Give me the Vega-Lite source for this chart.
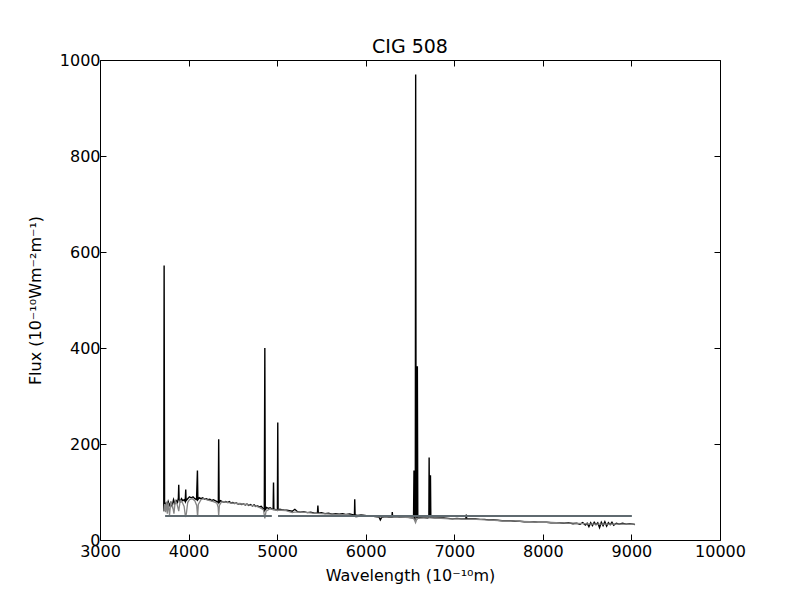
{
  "$schema": "https://vega.github.io/schema/vega-lite/v6.json",
  "autosize": {"type": "none"},
  "padding": {"left": 100, "top": 60, "right": 80, "bottom": 60},
  "width": 620,
  "height": 480,
  "background": "white",
  "title": {"text": "CIG 508", "font": "DejaVu Sans", "fontSize": 19, "fontWeight": "normal", "color": "black", "offset": -5},
  "config": {
    "view": {"stroke": "black", "strokeWidth": 1},
    "axis": {"domain": false, "grid": false, "labelFlush": false, "labelOverlap": false, "tickColor": "black", "tickSize": -6, "tickWidth": 1, "labelFont": "DejaVu Sans", "labelFontSize": 16, "labelColor": "black", "titleFont": "DejaVu Sans", "titleFontSize": 16, "titleFontWeight": "normal", "titleColor": "black", "labelPadding": 6}
  },
  "datasets": {
    "obs": [
      {"w":3720,"f":60},{"w":3724,"f":572},{"w":3729,"f":70},{"w":3740,"f":75},{"w":3755,"f":68},{"w":3770,"f":80},{"w":3785,"f":72},{"w":3800,"f":78},{"w":3815,"f":70},{"w":3830,"f":84},{"w":3845,"f":76},{"w":3860,"f":82},{"w":3875,"f":78},{"w":3885,"f":88},{"w":3889,"f":115},{"w":3893,"f":85},{"w":3905,"f":80},{"w":3920,"f":86},{"w":3935,"f":82},{"w":3950,"f":84},{"w":3962,"f":80},{"w":3968,"f":105},{"w":3972,"f":82},{"w":3990,"f":86},{"w":4010,"f":90},{"w":4030,"f":88},{"w":4050,"f":90},{"w":4070,"f":86},{"w":4090,"f":84},{"w":4100,"f":145},{"w":4105,"f":84},{"w":4120,"f":88},{"w":4140,"f":86},{"w":4160,"f":88},{"w":4180,"f":85},{"w":4200,"f":86},{"w":4220,"f":84},{"w":4240,"f":85},{"w":4260,"f":82},{"w":4280,"f":84},{"w":4300,"f":82},{"w":4320,"f":80},{"w":4336,"f":78},{"w":4340,"f":210},{"w":4345,"f":78},{"w":4360,"f":82},{"w":4380,"f":80},{"w":4400,"f":79},{"w":4420,"f":80},{"w":4440,"f":78},{"w":4460,"f":80},{"w":4480,"f":77},{"w":4500,"f":78},{"w":4520,"f":76},{"w":4540,"f":77},{"w":4560,"f":75},{"w":4580,"f":76},{"w":4600,"f":74},{"w":4620,"f":75},{"w":4640,"f":73},{"w":4660,"f":75},{"w":4680,"f":72},{"w":4700,"f":74},{"w":4720,"f":71},{"w":4740,"f":73},{"w":4760,"f":70},{"w":4780,"f":71},{"w":4800,"f":69},{"w":4820,"f":70},{"w":4840,"f":66},{"w":4855,"f":62},{"w":4861,"f":400},{"w":4866,"f":62},{"w":4880,"f":68},{"w":4900,"f":66},{"w":4920,"f":67},{"w":4940,"f":65},{"w":4955,"f":64},{"w":4959,"f":120},{"w":4963,"f":64},{"w":4985,"f":63},{"w":5003,"f":62},{"w":5007,"f":245},{"w":5011,"f":62},{"w":5030,"f":64},{"w":5050,"f":63},{"w":5080,"f":62},{"w":5110,"f":62},{"w":5140,"f":61},{"w":5170,"f":60},{"w":5200,"f":64},{"w":5230,"f":59},{"w":5260,"f":58},{"w":5300,"f":59},{"w":5340,"f":57},{"w":5380,"f":58},{"w":5420,"f":56},{"w":5455,"f":56},{"w":5460,"f":72},{"w":5465,"f":56},{"w":5500,"f":57},{"w":5540,"f":55},{"w":5580,"f":56},{"w":5620,"f":54},{"w":5660,"f":55},{"w":5700,"f":54},{"w":5740,"f":55},{"w":5780,"f":53},{"w":5820,"f":54},{"w":5860,"f":52},{"w":5873,"f":53},{"w":5876,"f":85},{"w":5880,"f":52},{"w":5910,"f":51},{"w":5950,"f":52},{"w":5990,"f":51},{"w":6030,"f":50},{"w":6070,"f":50},{"w":6110,"f":49},{"w":6150,"f":48},{"w":6165,"f":42},{"w":6180,"f":47},{"w":6220,"f":49},{"w":6260,"f":48},{"w":6296,"f":48},{"w":6300,"f":58},{"w":6304,"f":48},{"w":6340,"f":49},{"w":6380,"f":48},{"w":6420,"f":48},{"w":6460,"f":48},{"w":6500,"f":47},{"w":6540,"f":46},{"w":6545,"f":145},{"w":6550,"f":45},{"w":6555,"f":40},{"w":6560,"f":60},{"w":6564,"f":970},{"w":6569,"f":60},{"w":6578,"f":45},{"w":6583,"f":362},{"w":6588,"f":45},{"w":6620,"f":47},{"w":6660,"f":47},{"w":6700,"f":46},{"w":6713,"f":48},{"w":6716,"f":172},{"w":6720,"f":48},{"w":6728,"f":48},{"w":6731,"f":135},{"w":6735,"f":47},{"w":6780,"f":46},{"w":6830,"f":46},{"w":6880,"f":46},{"w":6930,"f":45},{"w":6980,"f":44},{"w":7030,"f":45},{"w":7080,"f":44},{"w":7130,"f":44},{"w":7136,"f":53},{"w":7140,"f":44},{"w":7190,"f":44},{"w":7240,"f":44},{"w":7290,"f":43},{"w":7340,"f":43},{"w":7390,"f":42},{"w":7440,"f":42},{"w":7490,"f":41},{"w":7540,"f":40},{"w":7590,"f":40},{"w":7640,"f":40},{"w":7690,"f":39},{"w":7740,"f":39},{"w":7790,"f":38},{"w":7840,"f":38},{"w":7890,"f":38},{"w":7940,"f":37},{"w":7990,"f":37},{"w":8040,"f":37},{"w":8090,"f":36},{"w":8140,"f":36},{"w":8190,"f":36},{"w":8240,"f":35},{"w":8290,"f":36},{"w":8340,"f":34},{"w":8380,"f":35},{"w":8420,"f":33},{"w":8450,"f":36},{"w":8480,"f":31},{"w":8500,"f":35},{"w":8520,"f":28},{"w":8540,"f":36},{"w":8560,"f":30},{"w":8580,"f":37},{"w":8600,"f":32},{"w":8620,"f":36},{"w":8640,"f":26},{"w":8660,"f":37},{"w":8680,"f":30},{"w":8700,"f":38},{"w":8720,"f":29},{"w":8740,"f":36},{"w":8760,"f":32},{"w":8780,"f":37},{"w":8800,"f":31},{"w":8830,"f":35},{"w":8860,"f":33},{"w":8900,"f":35},{"w":8940,"f":33},{"w":8980,"f":34},{"w":9020,"f":33},{"w":9040,"f":32}
    ],
    "model": [
      {"w":3720,"f":60},{"w":3730,"f":75},{"w":3740,"f":58},{"w":3750,"f":80},{"w":3760,"f":55},{"w":3770,"f":78},{"w":3785,"f":52},{"w":3800,"f":80},{"w":3820,"f":70},{"w":3835,"f":55},{"w":3850,"f":82},{"w":3870,"f":75},{"w":3889,"f":60},{"w":3905,"f":82},{"w":3930,"f":78},{"w":3950,"f":70},{"w":3965,"f":48},{"w":3975,"f":55},{"w":3990,"f":78},{"w":4010,"f":84},{"w":4040,"f":86},{"w":4070,"f":82},{"w":4092,"f":72},{"w":4102,"f":48},{"w":4110,"f":74},{"w":4140,"f":84},{"w":4170,"f":86},{"w":4200,"f":84},{"w":4240,"f":82},{"w":4280,"f":80},{"w":4320,"f":77},{"w":4334,"f":68},{"w":4340,"f":50},{"w":4348,"f":72},{"w":4370,"f":79},{"w":4400,"f":80},{"w":4450,"f":78},{"w":4500,"f":77},{"w":4550,"f":76},{"w":4600,"f":75},{"w":4650,"f":74},{"w":4700,"f":72},{"w":4750,"f":71},{"w":4800,"f":68},{"w":4845,"f":63},{"w":4861,"f":45},{"w":4875,"f":60},{"w":4920,"f":65},{"w":4960,"f":63},{"w":5000,"f":62},{"w":5050,"f":62},{"w":5100,"f":61},{"w":5170,"f":57},{"w":5200,"f":58},{"w":5250,"f":58},{"w":5300,"f":58},{"w":5400,"f":56},{"w":5500,"f":55},{"w":5600,"f":54},{"w":5700,"f":53},{"w":5800,"f":53},{"w":5876,"f":50},{"w":5890,"f":48},{"w":5950,"f":51},{"w":6050,"f":50},{"w":6150,"f":48},{"w":6250,"f":48},{"w":6350,"f":48},{"w":6450,"f":47},{"w":6540,"f":46},{"w":6563,"f":36},{"w":6580,"f":45},{"w":6650,"f":46},{"w":6750,"f":46},{"w":6850,"f":45},{"w":6950,"f":44},{"w":7050,"f":44},{"w":7150,"f":43},{"w":7250,"f":43},{"w":7350,"f":42},{"w":7450,"f":41},{"w":7550,"f":40},{"w":7650,"f":40},{"w":7750,"f":39},{"w":7850,"f":38},{"w":7950,"f":37},{"w":8050,"f":37},{"w":8150,"f":36},{"w":8250,"f":35},{"w":8350,"f":35},{"w":8450,"f":34},{"w":8550,"f":33},{"w":8650,"f":33},{"w":8750,"f":33},{"w":8850,"f":33},{"w":8950,"f":33},{"w":9040,"f":33}
    ],
    "segs": [
      {"w1":3735,"w2":4940,"f":50},
      {"w1":5010,"w2":9005,"f":50}
    ]
  },
  "layer": [
    {
      "data": {"name": "obs"},
      "mark": {"type": "line", "color": "black", "strokeWidth": 1.4, "clip": true},
      "encoding": {
        "x": {"field": "w", "type": "quantitative", "scale": {"domain": [3000, 10000], "nice": false, "zero": false}, "axis": {"values": [3000,4000,5000,6000,7000,8000,9000,10000], "format": "d", "labelPadding": 9, "title": "Wavelength (10⁻¹⁰m)", "titlePadding": 8}},
        "y": {"field": "f", "type": "quantitative", "scale": {"domain": [0, 1000], "nice": false}, "axis": {"values": [0,200,400,600,800,1000], "format": "d", "title": "Flux (10⁻¹⁰Wm⁻²m⁻¹)", "titlePadding": 16}}
      }
    },
    {
      "data": {"name": "model"},
      "mark": {"type": "line", "color": "#858585", "strokeWidth": 1.3, "clip": true},
      "encoding": {
        "x": {"field": "w", "type": "quantitative", "axis": null},
        "y": {"field": "f", "type": "quantitative", "axis": null}
      }
    },
    {
      "data": {"name": "segs"},
      "mark": {"type": "rule", "color": "#5f6a70", "strokeWidth": 2},
      "encoding": {
        "x": {"field": "w1", "type": "quantitative", "axis": {"orient": "top", "values": [3000,4000,5000,6000,7000,8000,9000,10000], "labels": false, "title": null}},
        "x2": {"field": "w2"},
        "y": {"field": "f", "type": "quantitative", "axis": {"orient": "right", "values": [0,200,400,600,800,1000], "labels": false, "title": null}}
      }
    }
  ],
  "resolve": {"axis": {"x": "independent", "y": "independent"}}
}
